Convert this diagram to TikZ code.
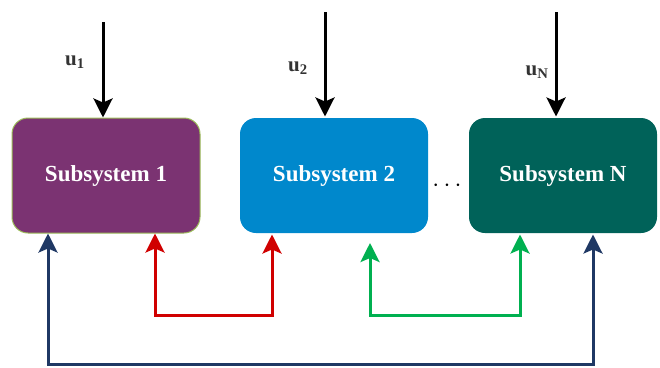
\documentclass[tikz,border=0pt]{standalone}
\usepackage{fontspec}
\setmainfont{Liberation Serif}
\usetikzlibrary{positioning, arrows.meta}

\definecolor{subone}{HTML}{7B3372}
\definecolor{subtwo}{HTML}{0088CC}
\definecolor{subN}{HTML}{006259}
\definecolor{edgeone}{HTML}{9BBB59}
\definecolor{linkred}{HTML}{D00000}
\definecolor{linkgreen}{HTML}{00B050}
\definecolor{linkblue}{HTML}{1F3864}

\begin{document}
\begin{tikzpicture}[x = 1pt, y = -1pt,
                > = {Stealth[length=19pt, width=19pt, inset=4pt]}, % arrow head style
                node distance = 38pt, % gap between the boxes
                line width = 3pt % line style
            ]

            \tikzstyle{subbox}=[rectangle, rounded corners = 16pt,
            minimum width = 188pt, minimum height = 115pt, inner sep = 0pt,
            text = white, font = \fontsize{23}{26}\selectfont\bfseries]
            \tikzstyle{ulabel}=[font = \fontsize{21}{24}\selectfont\bfseries,
            text = black!80, inner sep = 0pt]

            \useasboundingbox (0,0) rectangle (660,367);

            \node[subbox, fill = subone, draw = edgeone, line width = 1pt] (s1)
            at (106,175.5) {Subsystem 1}; \node[subbox, fill = subtwo] (s2)
            [right = of s1] {Subsystem 2}; \node[subbox, fill = subN] (sN)
            [right = of s2] {Subsystem N};

            \node[inner sep = 0pt, font = \fontsize{26}{28}\selectfont\bfseries]
            (dots) at (447,186) {$\cdots$};

            % inputs
            \coordinate (in1) at (103,22); \coordinate (in2) at (325,12);
            \coordinate (inN) at (556,12);
            \draw[->] (in1) -- (in1 |- s1.north); \draw[->] (in2) -- (in2 |-
            s2.north); \draw[->] (inN) -- (inN |- sN.north);

            \node[ulabel] (u1) at (75,62) {u\textsubscript{1}}; \node[ulabel]
            (u2) at (298,68) {u\textsubscript{2}}; \node[ulabel] (uN) at
            (537,72) {u\textsubscript{N}};

            % couplings
            \coordinate (r1) at (155,315); \coordinate (r2) at (272,315);
            \coordinate (g1) at (370,315); \coordinate (g2) at (520,315);
            \coordinate (b1) at (48,364); \coordinate (b2) at (593,364);
            \coordinate (gtop) at (370,243);

            \draw[linkred, <->] (r1 |- s1.south) -- (r1) -- (r2) -- (r2 |-
            s2.south); \draw[linkgreen, <->] (gtop) -- (g1) -- (g2) -- (g2 |-
            sN.south); \draw[linkblue, <->] (b1 |- s1.south) -- (b1) -- (b2) --
            (b2 |- sN.south);
        \end{tikzpicture}
\end{document}
